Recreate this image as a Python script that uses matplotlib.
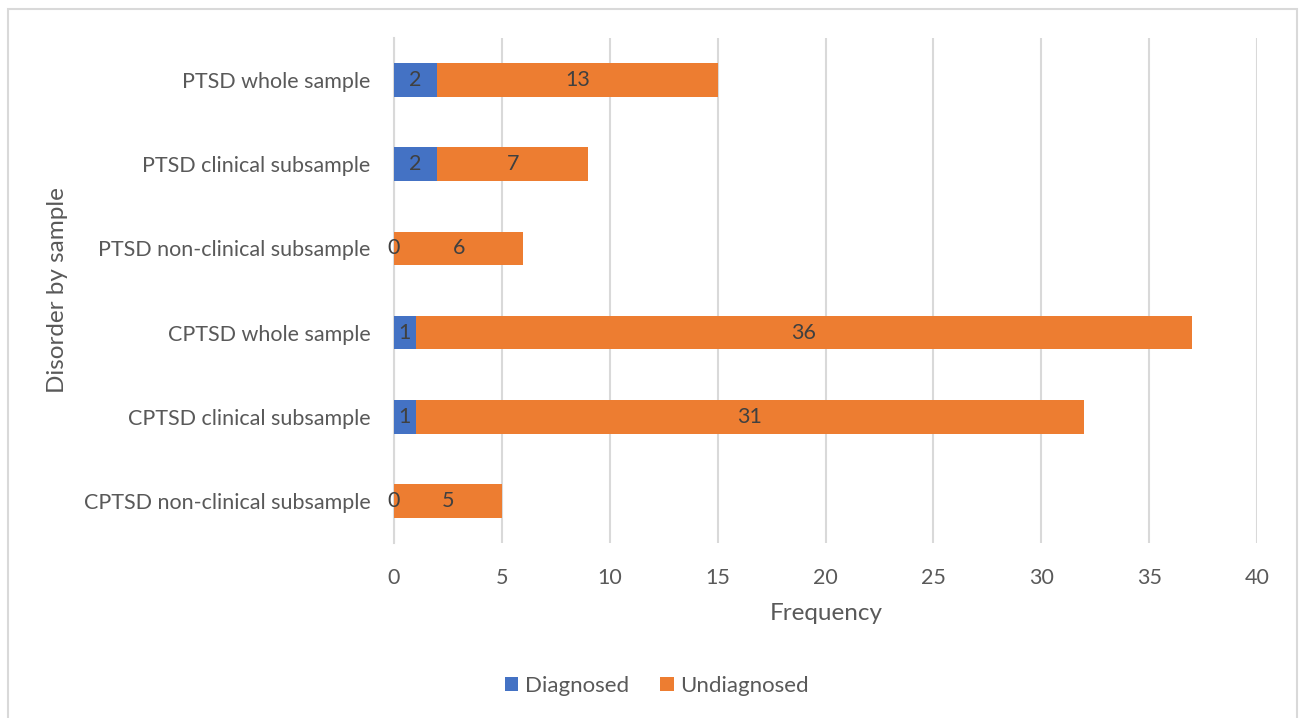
import matplotlib
matplotlib.use("Agg")
import matplotlib.pyplot as plt
from matplotlib.patches import Rectangle

categories = ["PTSD whole sample", "PTSD clinical subsample", "PTSD non-clinical subsample",
              "CPTSD whole sample", "CPTSD clinical subsample", "CPTSD non-clinical subsample"]
diagnosed = [2, 2, 0, 1, 1, 0]
undiagnosed = [13, 7, 6, 36, 31, 5]
xticks = [0, 5, 10, 15, 20, 25, 30, 35, 40]

plt.rcParams['font.family'] = ['Lato', 'DejaVu Sans']

W, H = 1304, 718
fig = plt.figure(figsize=(W / 100, H / 100), dpi=100)
fig.patches.append(Rectangle((8 / W, -0.1), (1297 - 8) / W, 1 - 9 / H + 0.1,
                             transform=fig.transFigure, fill=False,
                             edgecolor='#d9d9d9', linewidth=1.5))

ax = fig.add_axes([394 / W, 1 - 543 / H, (1257 - 394) / W, (543 - 38) / H])
y = list(range(len(categories)))
h = 0.4
b1 = ax.barh(y, diagnosed, height=h, color='#4472C4', label='Diagnosed', zorder=3)
b2 = ax.barh(y, undiagnosed, left=diagnosed, height=h, color='#ED7D31', label='Undiagnosed', zorder=3)

for i in y:
    ax.text(diagnosed[i] / 2, i, str(diagnosed[i]), ha='center', va='center',
            fontsize=15.5, color='#404040', zorder=4)
    ax.text(diagnosed[i] + undiagnosed[i] / 2, i, str(undiagnosed[i]), ha='center', va='center',
            fontsize=15.5, color='#404040', zorder=4)

ax.set_xlim(0, 40)
ax.set_ylim(len(categories) - 0.5, -0.5)
ax.set_xticks(xticks)
ax.set_xticklabels([str(t) for t in xticks])
ax.set_yticks(y)
ax.set_yticklabels(categories)
ax.tick_params(axis='both', length=0, labelsize=15.5, labelcolor='#595959')
ax.tick_params(axis='x', pad=18)
ax.tick_params(axis='y', pad=17)
ax.grid(axis='x', color='#d9d9d9', linewidth=1.5, zorder=0)
for s in ['top', 'right', 'bottom']:
    ax.spines[s].set_visible(False)
ax.spines['left'].set_color('#d9d9d9')
ax.spines['left'].set_linewidth(1.5)
ax.set_axisbelow(True)

fig.text(826 / W, 1 - 614 / H, 'Frequency', ha='center', va='center', fontsize=17.5, color='#595959')
fig.text(58 / W, 1 - 290 / H, 'Disorder by sample', ha='center', va='center', rotation=90,
         fontsize=17.5, color='#595959')

fig.legend(handles=[b1, b2], labels=['Diagnosed', 'Undiagnosed'], loc='center',
           bbox_to_anchor=(657 / W, 1 - 686 / H), ncol=2, frameon=False, fontsize=16,
           labelcolor='#595959', handlelength=0.6, handleheight=0.6, handletextpad=0.3,
           columnspacing=1.4)

fig.savefig('out.png', dpi=100)
